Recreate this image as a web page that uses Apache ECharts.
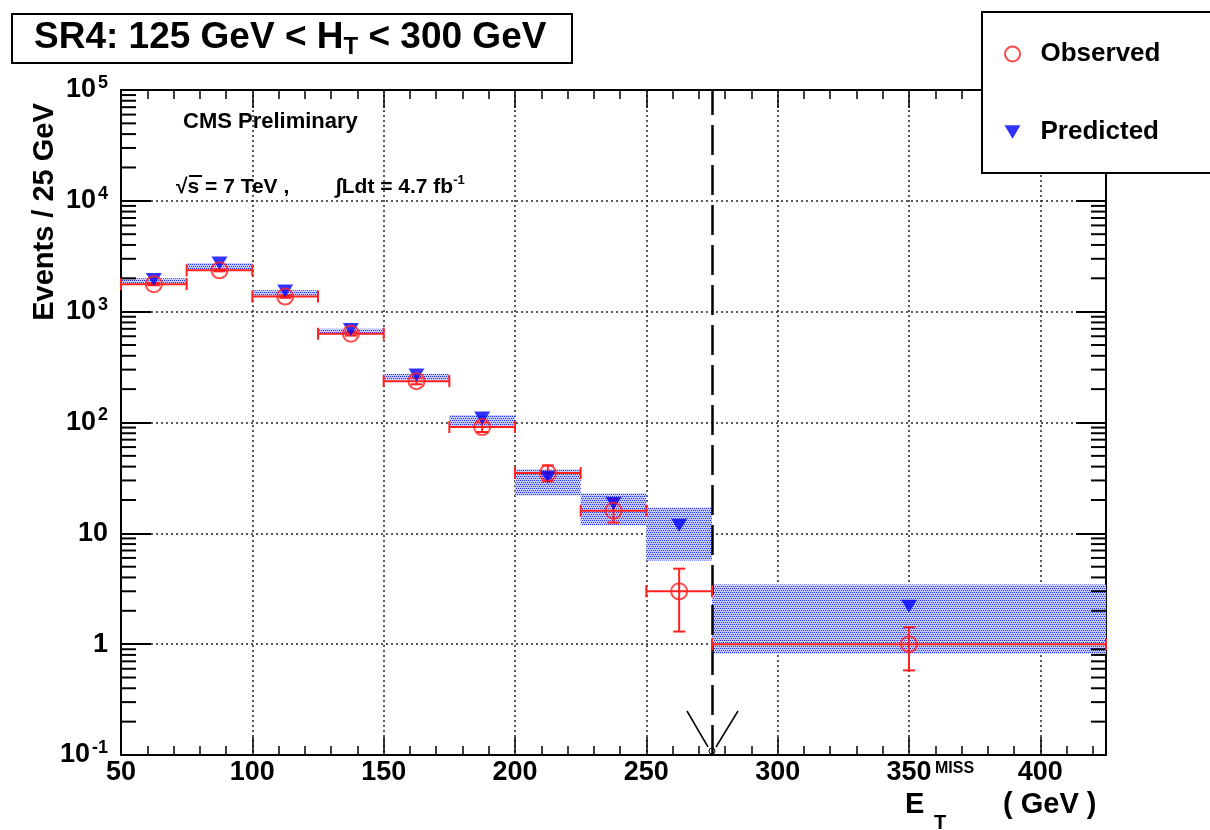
<!DOCTYPE html>
<html>
<head>
<meta charset="utf-8">
<script src="https://cdn.jsdelivr.net/npm/echarts@6/dist/echarts.min.js"></script>
<style>
html,body{margin:0;padding:0;background:#fff;}
#main{width:1210px;height:830px;}
</style>
</head>
<body>
<div id="main"></div>
<script>
// ---- data ----
const binLo = [50, 75, 100, 125, 150, 175, 200, 225, 250, 275];
const binHi = [75, 100, 125, 150, 175, 200, 225, 250, 275, 425];
const binCenter = [62.5, 87.5, 112.5, 137.5, 162.5, 187.5, 212.5, 237.5, 262.5, 350];
const observed = [1770, 2360, 1370, 633, 236, 91, 35, 16, 3, 1];
const observedLo = [1730, 2310, 1333, 608, 221, 82, 29.5, 12.5, 1.3, 0.58];
const observedHi = [1810, 2410, 1407, 658, 251, 100, 41, 20.5, 4.8, 1.42];
const predicted = [1950, 2750, 1540, 690, 268, 110, 32, 18.6, 11.8, 2.2];
const predictedLo = [1800, 2420, 1380, 625, 240, 92, 22, 11.8, 5.7, 0.82];
const predictedHi = [2000, 2750, 1560, 700, 275, 117, 37.8, 23, 17.1, 3.45];
const cutValue = 275;
const xTickLabels = ['50','100','150','200','250','300','350','400'];
// ---------------

const FONT = '"Liberation Sans", Arial, Helvetica, sans-serif';

function makePattern() {
  const c = document.createElement('canvas');
  c.width = 4; c.height = 4;
  const ctx = c.getContext('2d');
  ctx.fillStyle = '#c6cbff';
  ctx.fillRect(0, 0, 4, 4);
  ctx.fillStyle = '#2030ff';
  [[0,0],[2,0],[1,2],[3,2]].forEach(p => ctx.fillRect(p[0], p[1], 1, 1));
  return c;
}
const pattern = { image: makePattern(), repeat: 'repeat' };

// minor tick values on log axis (decoration)
const minorY = [];
for (let e = -1; e < 5; e++) for (let k = 2; k <= 9; k++) minorY.push(k * Math.pow(10, e));

const chart = echarts.init(document.getElementById('main'), null, {renderer: 'canvas'});

const bandData = binLo.map((x0, i) => [x0, binHi[i], predictedLo[i], predictedHi[i]]);
const obsErrData = binLo.map((x0, i) => [x0, binHi[i], binCenter[i], observed[i], observedLo[i], observedHi[i]]);

function yLabel(v) {
  const e = Math.round(Math.log10(v));
  if (e === 0) return '{b|1}';
  if (e === 1) return '{b|10}';
  return '{b|10}{s|' + e + '}';
}

const option = {
  backgroundColor: '#fff',
  animation: false,
  title: {
    text: '{a|SR4: 125 GeV < H}{t|T}{a| < 300 GeV}',
    left: 12, top: 12,
    borderColor: '#000', borderWidth: 2,
    padding: [5, 26, 4, 22],
    textStyle: {
      rich: {
        a: {fontFamily: FONT, fontSize: 37, fontWeight: 'bold', color: '#000', lineHeight: 42},
        t: {fontFamily: FONT, fontSize: 24, fontWeight: 'bold', color: '#000', verticalAlign: 'bottom', padding: [16, 0, 0, 0], lineHeight: 42}
      }
    }
  },
  legend: {
    orient: 'vertical',
    left: 982, top: 12,
    backgroundColor: '#fff',
    borderColor: '#000', borderWidth: 2,
    padding: [28, 80, 27, 22],
    itemGap: 50,
    itemWidth: 16, itemHeight: 15,
    textStyle: {fontFamily: FONT, fontSize: 26, fontWeight: 'bold', color: '#000', lineHeight: 28, padding: [0, 0, 0, 15]},
    data: ['Observed', 'Predicted'],
    z: 20
  },
  grid: {left: 121, right: 104, top: 90, bottom: 75},
  xAxis: [{
    type: 'value', min: 50, max: 425, interval: 50,
    axisLine: {show: true, lineStyle: {color: '#000', width: 2}},
    axisTick: {show: true, inside: true, length: 18, lineStyle: {color: '#000', width: 1.5}},
    minorTick: {show: true, splitNumber: 5, length: 9, lineStyle: {color: '#000', width: 1.5}},
    splitLine: {show: true, lineStyle: {color: '#222', width: 1.5, type: [2, 3]}},
    axisLabel: {
      fontFamily: FONT, fontSize: 27, fontWeight: 'bold', color: '#000', margin: 4,
      formatter: v => xTickLabels.indexOf(String(v)) >= 0 ? String(v) : ''
    }
  }, {
    type: 'value', min: 50, max: 425, interval: 50, position: 'top',
    axisLine: {show: true, lineStyle: {color: '#000', width: 2}},
    axisTick: {show: true, inside: true, length: 18, lineStyle: {color: '#000', width: 1.5}},
    minorTick: {show: true, splitNumber: 5, length: 9, lineStyle: {color: '#000', width: 1.5}},
    splitLine: {show: false},
    axisLabel: {show: false}
  }],
  yAxis: [{
    type: 'log', logBase: 10, min: 0.1, max: 100000,
    axisLine: {show: true, lineStyle: {color: '#000', width: 2}},
    axisTick: {show: true, inside: true, length: 30, lineStyle: {color: '#000', width: 2}},
    splitLine: {show: true, lineStyle: {color: '#222', width: 1.5, type: [2, 3]}},
    axisLabel: {
      margin: 13,
      formatter: yLabel,
      rich: {
        b: {fontFamily: FONT, fontSize: 27, fontWeight: 'bold', color: '#000', lineHeight: 32},
        s: {fontFamily: FONT, fontSize: 18, fontWeight: 'bold', color: '#000', verticalAlign: 'top', lineHeight: 32, padding: [0, 0, 14, 2]}
      }
    }
  }, {
    type: 'log', logBase: 10, min: 0.1, max: 100000, position: 'right',
    axisLine: {show: true, lineStyle: {color: '#000', width: 2}},
    axisTick: {show: true, inside: true, length: 30, lineStyle: {color: '#000', width: 2}},
    splitLine: {show: false},
    axisLabel: {show: false}
  }],
  graphic: [
    {type: 'text', x: 183, y: 122, z: 10, style: {text: 'CMS Preliminary', font: 'bold 22px ' + FONT, fill: '#000', verticalAlign: 'middle'}},
    {type: 'text', x: 176, y: 187, z: 10, style: {text: '√s = 7 TeV ,', font: 'bold 21px ' + FONT, fill: '#000', verticalAlign: 'middle'}},
    {type: 'line', z: 10, shape: {x1: 189, y1: 176, x2: 202, y2: 176}, style: {stroke: '#000', lineWidth: 2}},
    {type: 'text', x: 336, y: 187, z: 10, style: {
      text: '{a|∫Ldt = 4.7 fb}{s|-1}', verticalAlign: 'middle',
      rich: {
        a: {font: 'bold 21px ' + FONT, fill: '#000', lineHeight: 26},
        s: {font: 'bold 13px ' + FONT, fill: '#000', verticalAlign: 'top', lineHeight: 26, padding: [0,0,8,0]}
      }
    }},
    {type: 'text', x: 45, y: 212, rotation: Math.PI / 2, z: 10, style: {
      text: 'Events / 25 GeV', font: 'bold 29px ' + FONT, fill: '#000', align: 'center', verticalAlign: 'middle'
    }},
    {type: 'text', x: 905, y: 805, z: 10, style: {text: 'E', font: 'bold 29px ' + FONT, fill: '#000', verticalAlign: 'middle'}},
    {type: 'text', x: 934, y: 823, z: 10, style: {text: 'T', font: 'bold 20px ' + FONT, fill: '#000', verticalAlign: 'middle'}},
    {type: 'text', x: 935, y: 769, z: 10, style: {text: 'MISS', font: 'bold 16px ' + FONT, fill: '#000', verticalAlign: 'middle'}},
    {type: 'text', x: 1003, y: 805, z: 10, style: {text: '( GeV )', font: 'bold 29px ' + FONT, fill: '#000', verticalAlign: 'middle'}}
  ],
  series: [
    {
      name: 'PredictedBand', type: 'custom', xAxisIndex: 0, yAxisIndex: 0, z: 2,
      data: bandData,
      renderItem: (params, api) => {
        const p0 = api.coord([api.value(0), api.value(3)]);
        const p1 = api.coord([api.value(1), api.value(2)]);
        return {type: 'rect', shape: {x: p0[0], y: p0[1], width: p1[0] - p0[0], height: p1[1] - p0[1]},
          style: {fill: pattern}};
      },
      silent: true
    },
    {
      name: 'MinorYTicks', type: 'custom', xAxisIndex: 0, yAxisIndex: 0, z: 3,
      data: minorY.map(v => [v]),
      renderItem: (params, api) => {
        const v = api.value(0);
        const l = api.coord([50, v]);
        const r = api.coord([425, v]);
        return {type: 'group', children: [
          {type: 'line', shape: {x1: l[0], y1: l[1], x2: l[0] + 15, y2: l[1]}, style: {stroke: '#000', lineWidth: 2}},
          {type: 'line', shape: {x1: r[0], y1: r[1], x2: r[0] - 15, y2: r[1]}, style: {stroke: '#000', lineWidth: 2}}
        ]};
      },
      silent: true
    },
    {
      name: 'Cut', type: 'custom', xAxisIndex: 0, yAxisIndex: 0, z: 4,
      data: [[cutValue, 0.1]],
      renderItem: (params, api) => {
        const p = api.coord([api.value(0), api.value(1)]);
        return {type: 'group', children: [
          {type: 'line', shape: {x1: p[0] - 4, y1: p[1] - 8, x2: p[0] - 25, y2: p[1] - 44}, style: {stroke: '#000', lineWidth: 1.5}},
          {type: 'line', shape: {x1: p[0] + 4, y1: p[1] - 8, x2: p[0] + 26, y2: p[1] - 44}, style: {stroke: '#000', lineWidth: 1.5}},
          {type: 'circle', shape: {cx: p[0], cy: p[1] - 4, r: 3}, style: {fill: '#fff', stroke: '#000', lineWidth: 1}}
        ]};
      },
      markLine: {
        silent: true, symbol: ['none', 'none'], label: {show: false},
        lineStyle: {color: '#000', width: 2.5, type: [30, 10]},
        data: [{xAxis: cutValue}]
      },
      silent: true
    },
    {
      name: 'ObservedErr', type: 'custom', xAxisIndex: 0, yAxisIndex: 0, z: 5,
      data: obsErrData,
      renderItem: (params, api) => {
        const a = api.coord([api.value(0), api.value(3)]);
        const b = api.coord([api.value(1), api.value(3)]);
        const lo = api.coord([api.value(2), api.value(4)]);
        const hi = api.coord([api.value(2), api.value(5)]);
        const st = {stroke: '#ff2020', lineWidth: 2};
        return {type: 'group', children: [
          {type: 'line', shape: {x1: a[0], y1: a[1], x2: b[0], y2: b[1]}, style: st},
          {type: 'line', shape: {x1: a[0], y1: a[1] - 6, x2: a[0], y2: a[1] + 6}, style: st},
          {type: 'line', shape: {x1: b[0], y1: b[1] - 6, x2: b[0], y2: b[1] + 6}, style: st},
          {type: 'line', shape: {x1: lo[0], y1: lo[1], x2: hi[0], y2: hi[1]}, style: st},
          {type: 'line', shape: {x1: lo[0] - 6, y1: lo[1], x2: lo[0] + 6, y2: lo[1]}, style: st},
          {type: 'line', shape: {x1: hi[0] - 6, y1: hi[1], x2: hi[0] + 6, y2: hi[1]}, style: st}
        ]};
      },
      silent: true
    },
    {
      name: 'Predicted', type: 'scatter', xAxisIndex: 0, yAxisIndex: 0, z: 6,
      symbol: 'path://M0,0 L12,0 L6,10 Z', symbolSize: [16, 13],
      itemStyle: {color: '#0000ff'},
      data: binCenter.map((x, i) => [x, predicted[i]])
    },
    {
      name: 'Observed', type: 'scatter', xAxisIndex: 0, yAxisIndex: 0, z: 7,
      symbol: 'circle', symbolSize: 16,
      itemStyle: {color: 'rgba(255,255,255,0)', borderColor: '#ff2020', borderWidth: 2},
      data: binCenter.map((x, i) => [x, observed[i]])
    }
  ]
};
chart.setOption(option);
</script>
</body>
</html>
